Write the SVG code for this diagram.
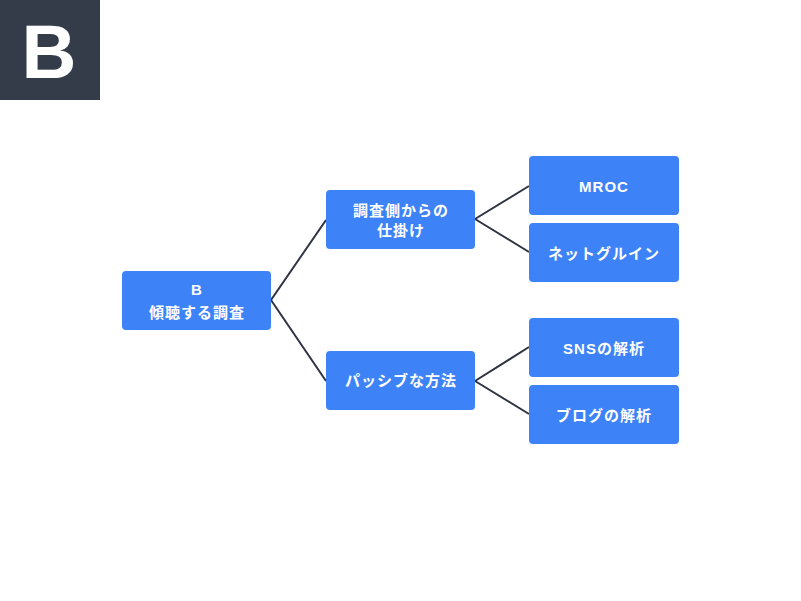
<svg xmlns="http://www.w3.org/2000/svg" width="801" height="601" viewBox="0 0 801 601">
<style>
.node rect{fill:#3d83f7;}
.node text{fill:#ffffff;font-family:"Liberation Sans","Noto Sans CJK JP",sans-serif;font-size:15px;font-weight:bold;text-anchor:middle;letter-spacing:1px;}
.edges path{stroke:#2d3340;stroke-width:2;fill:none;}
</style>
<rect width="801" height="601" fill="#ffffff"/>
<g id="badge">
<rect x="0" y="0" width="100" height="100" fill="#333c48"/>
<text x="49" y="78" fill="#ffffff" font-family="Liberation Sans, Arial, sans-serif" font-size="76" font-weight="bold" text-anchor="middle">B</text>
</g>
<g class="edges" id="connectors">
<path d="M271 300 L326 220"/>
<path d="M271 300 L326 381"/>
<path d="M475 219 L529 186"/>
<path d="M475 219 L529 252"/>
<path d="M475 381 L529 347"/>
<path d="M475 381 L529 414"/>
</g>
<g class="node" id="root">
<rect x="122" y="271" width="149" height="59" rx="4"/>
<text x="197" y="295">B</text>
<text x="197" y="318">傾聴する調査</text>
</g>
<g class="node" id="mid1">
<rect x="326" y="190" width="149" height="59" rx="4"/>
<text x="401" y="216">調査側からの</text>
<text x="401" y="236">仕掛け</text>
</g>
<g class="node" id="mid2">
<rect x="326" y="351" width="149" height="59" rx="4"/>
<text x="401" y="386">パッシブな方法</text>
</g>
<g class="node" id="leaf1">
<rect x="529" y="156" width="150" height="59" rx="4"/>
<text x="604" y="192">MROC</text>
</g>
<g class="node" id="leaf2">
<rect x="529" y="223" width="150" height="59" rx="4"/>
<text x="604" y="259">ネットグルイン</text>
</g>
<g class="node" id="leaf3">
<rect x="529" y="318" width="150" height="59" rx="4"/>
<text x="604" y="354">SNSの解析</text>
</g>
<g class="node" id="leaf4">
<rect x="529" y="385" width="150" height="59" rx="4"/>
<text x="604" y="421">ブログの解析</text>
</g>
</svg>
